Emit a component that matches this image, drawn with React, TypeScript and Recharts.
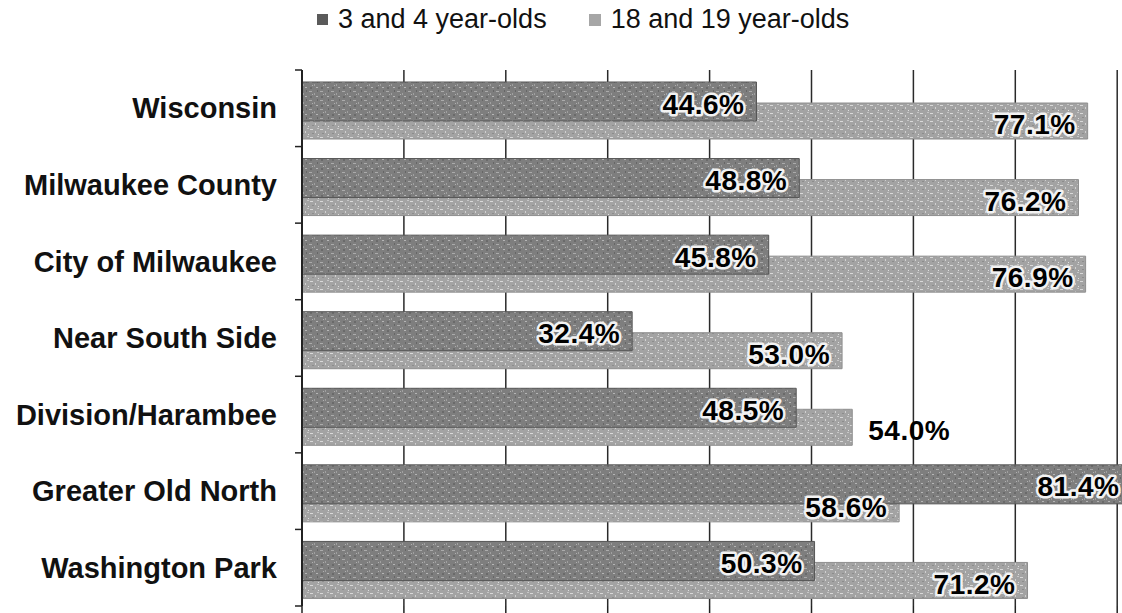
import React from 'react';
import { BarChart, Bar, XAxis, YAxis, CartesianGrid, Legend, LabelList } from 'recharts';

// categories top to bottom
const categories = [
  'Wisconsin',
  'Milwaukee County',
  'City of Milwaukee',
  'Near South Side',
  'Division/Harambee',
  'Greater Old North',
  'Washington Park',
];
const youngShare = [44.6, 48.8, 45.8, 32.4, 48.5, 81.4, 50.3];
const olderShare = [77.1, 76.2, 76.9, 53.0, 54.0, 58.6, 71.2];
// where the 18-19 label sits relative to its bar
const olderLabelSide = ['inside', 'inside', 'inside', 'inside', 'outside', 'inside', 'inside'];
const seriesNames = ['3 and 4 year-olds', '18 and 19 year-olds'];
const xTicks = [0, 10, 20, 30, 40, 50, 60, 70, 80, 90, 100];

const data = categories.map((name, i) => ({
  name,
  young: youngShare[i],
  older: olderShare[i],
}));

const FONT = '"Liberation Sans", Arial, Helvetica, sans-serif';
const PLOT_H = 536;
const BAND = PLOT_H / categories.length;
const SHIFT = 4;
const TICK_MARGIN = 25;

const CategoryTick = (props: any) => {
  const { x, y, payload, index } = props;
  const axisX = x + TICK_MARGIN;
  const top = y - BAND / 2 - SHIFT;
  return (
    <g>
      <line x1={axisX - 7} x2={axisX} y1={top} y2={top} stroke="#222" strokeWidth={1.5} />
      {index === categories.length - 1 && (
        <line x1={axisX - 7} x2={axisX} y1={top + BAND} y2={top + BAND} stroke="#222" strokeWidth={1.5} />
      )}
      <text
        x={x}
        y={y - SHIFT}
        dy="0.35em"
        textAnchor="end"
        fontFamily={FONT}
        fontWeight="bold"
        fontSize={29}
        fill="#111"
      >
        {payload.value}
      </text>
    </g>
  );
};

const valueText = (x: number, y: number, anchor: string, value: number, halo: boolean) => (
  <text
    x={x}
    y={y}
    dy="0.36em"
    textAnchor={anchor}
    fontFamily={FONT}
    fontWeight="bold"
    fontSize={28}
    letterSpacing={0.5}
    fill="#000"
    stroke={halo ? '#f2f2f2' : 'none'}
    strokeWidth={halo ? 5 : 0}
    strokeLinejoin="round"
    paintOrder="stroke"
  >
    {value.toFixed(1)}%
  </text>
);

const YoungLabel = (props: any) => {
  const { x, y, width, height, value } = props;
  return valueText(x + width - 12, y + height / 2 + 2, 'end', value, true);
};

const OlderLabel = (props: any) => {
  const { x, y, width, height, value, index } = props;
  if (olderLabelSide[index] === 'outside') {
    return valueText(x + width + 16, y + height / 2 + 3, 'start', value, false);
  }
  return valueText(x + width - 12, y + height / 2 + 3, 'end', value, true);
};

const LegendBox = () => (
  <div style={{ display: 'flex', alignItems: 'center', fontFamily: FONT, fontSize: 27, color: '#111', whiteSpace: 'nowrap' }}>
    <span style={{ width: 11, height: 11, background: '#5a5a5a', display: 'inline-block', marginRight: 10 }} />
    <span>{seriesNames[0]}</span>
    <span style={{ width: 12, height: 12, background: '#a6a6a6', display: 'inline-block', marginLeft: 42, marginRight: 10 }} />
    <span>{seriesNames[1]}</span>
  </div>
);

export default function App() {
  return (
    <div style={{ position: 'fixed', left: 0, top: 0, width: 1122, height: 613, overflow: 'hidden', background: '#fff' }}>
      <BarChart
        width={1321}
        height={613}
        data={data}
        layout="vertical"
        barGap={-57}
        margin={{ top: 70, right: 0, bottom: 0, left: 0 }}
      >
        <defs>
          <pattern id="darkTex" width="11" height="9" patternUnits="userSpaceOnUse">
            <rect width="11" height="9" fill="#7e7e7e" />
            <rect x="1" y="1" width="3" height="1" fill="#ababab" />
            <rect x="6" y="3" width="1" height="2" fill="#a0a0a0" />
            <rect x="8" y="6" width="2" height="1" fill="#b5b5b5" />
            <rect x="2" y="6" width="2" height="2" fill="#6a6a6a" />
            <rect x="9" y="0" width="1" height="2" fill="#666" />
            <rect x="4" y="4" width="1" height="1" fill="#b0b0b0" />
          </pattern>
          <pattern id="lightTex" width="10" height="8" patternUnits="userSpaceOnUse">
            <rect width="10" height="8" fill="#a3a3a3" />
            <rect x="0" y="1" width="3" height="1" fill="#d8d8d8" />
            <rect x="5" y="3" width="1" height="2" fill="#d0d0d0" />
            <rect x="7" y="0" width="2" height="1" fill="#c6c6c6" />
            <rect x="2" y="5" width="2" height="1" fill="#8c8c8c" />
            <rect x="8" y="6" width="1" height="1" fill="#dedede" />
          </pattern>
        </defs>
        <CartesianGrid horizontal={false} stroke="#2a2a2a" strokeWidth={1.5} />
        <XAxis
          type="number"
          domain={[0, 100]}
          ticks={xTicks}
          tickFormatter={() => ''}
          tickSize={7}
          tickLine={{ stroke: '#222', strokeWidth: 1.5 }}
          axisLine={false}
          height={7}
        />
        <YAxis
          type="category"
          dataKey="name"
          width={302}
          tickSize={0}
          tickMargin={TICK_MARGIN}
          tickLine={false}
          axisLine={{ stroke: '#222', strokeWidth: 2 }}
          padding={{ top: SHIFT, bottom: -SHIFT }}
          tick={<CategoryTick />}
          interval={0}
        />
        <Legend
          layout="horizontal"
          verticalAlign="middle"
          align="center"
          content={<LegendBox />}
          wrapperStyle={{ top: 4, left: 317, width: 'auto' }}
        />
        <Bar
          dataKey="older"
          name={seriesNames[1]}
          fill="url(#lightTex)"
          stroke="#8e8e8e"
          strokeWidth={1}
          barSize={36}
          isAnimationActive={false}
        >
          <LabelList dataKey="older" content={<OlderLabel />} />
        </Bar>
        <Bar
          dataKey="young"
          name={seriesNames[0]}
          fill="url(#darkTex)"
          stroke="#555"
          strokeWidth={1}
          barSize={39}
          isAnimationActive={false}
        >
          <LabelList dataKey="young" content={<YoungLabel />} />
        </Bar>
      </BarChart>
    </div>
  );
}
